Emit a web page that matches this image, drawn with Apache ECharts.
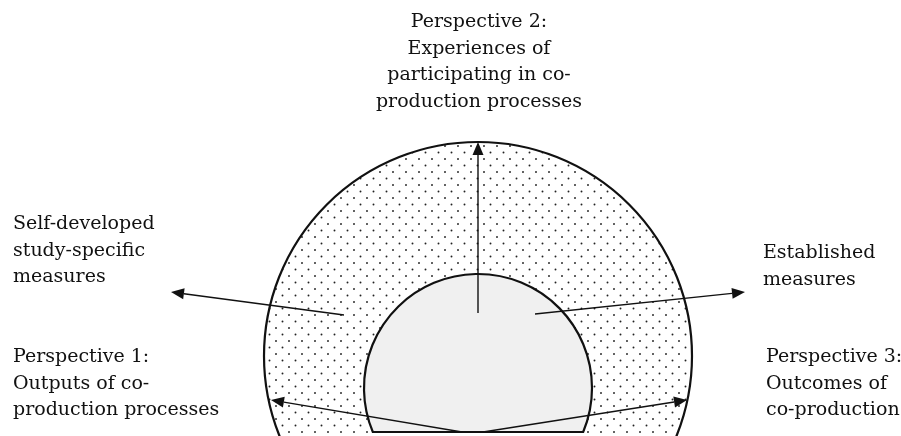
<!DOCTYPE html>
<html>
<head>
<meta charset="utf-8">
<script src="https://cdn.jsdelivr.net/npm/echarts@6/dist/echarts.min.js"></script>
<style>
    html, body {margin: 0; padding: 0; background: #fff;}
    #main {width: 901px; height: 436px;}
</style>
</head>
<body>
<div id="main"></div>
<script>
// diagram units (1 unit ~ 1px), origin at the centre of the big circle, y up
var outerCircle = [0, 0, 214];          // cx, cy, r
var innerDome = [0, -32, 114, -76];     // cx, cy, r, flat base y
var arrowFrom = [[0, 43], [-134, 41], [57, 42], [-16, -76], [5, -76]];
var arrowTo = [[0, 214], [-307, 64], [267, 64], [-207, -44], [209, -44]];

var labelTexts = [
    'Perspective 2:\nExperiences of\nparticipating in co-\nproduction processes',
    'Self-developed\nstudy-specific\nmeasures',
    'Perspective 1:\nOutputs of co-\nproduction processes',
    'Established\nmeasures',
    'Perspective 3:\nOutcomes of\nco-production'
];
var labelX = [1, -465, -465, 285, 288];
var labelY = [347, 145, 12, 116, 12];
var labelAlign = ['center', 'left', 'left', 'left', 'left'];

var FONT = '"DejaVu Serif", serif';

//点状填充
function dotPattern() {
    var c = document.createElement('canvas');
    c.width = 13;
    c.height = 13;
    var ctx = c.getContext('2d');
    ctx.fillStyle = '#fff';
    ctx.fillRect(0, 0, 13, 13);
    ctx.fillStyle = '#222';
    [[3, 3], [9.5, 9.5]].forEach(function (p) {
        ctx.beginPath();
        ctx.arc(p[0], p[1], 0.95, 0, Math.PI * 2);
        ctx.fill();
    });
    return c;
}
var pattern = dotPattern();

var chart = echarts.init(document.getElementById('main'));

var option = {
    animation: false,
    grid: {left: 0, right: 0, top: 0, bottom: 0},
    xAxis: {type: 'value', min: -478, max: 423, show: false},
    yAxis: {type: 'value', min: -80, max: 356, show: false},
    series: [
        {
            // outer circle
            type: 'custom',
            silent: true,
            clip: false,
            data: [outerCircle],
            renderItem: function (params, api) {
                var c = api.coord([api.value(0), api.value(1)]);
                var r = api.size([api.value(2), 0])[0];
                return {
                    type: 'circle',
                    shape: {cx: c[0], cy: c[1], r: r},
                    style: {fill: {image: pattern, repeat: 'repeat'}, stroke: '#111', lineWidth: 2.2}
                };
            }
        },
        {
            // inner dome
            type: 'custom',
            silent: true,
            clip: false,
            data: [innerDome],
            renderItem: function (params, api) {
                var c = api.coord([api.value(0), api.value(1)]);
                var r = api.size([api.value(2), 0])[0];
                var by = api.coord([0, api.value(3)])[1];
                var dy = by - c[1];
                var dx = Math.sqrt(r * r - dy * dy);
                var d = 'M' + (c[0] - dx) + ' ' + by + ' A' + r + ' ' + r + ' 0 1 1 ' + (c[0] + dx) + ' ' + by + ' Z';
                return {
                    type: 'path',
                    shape: {pathData: d},
                    style: {fill: '#f0f0f0', stroke: '#111', lineWidth: 2.2}
                };
            }
        },
        {
            // arrows
            type: 'custom',
            silent: true,
            clip: false,
            data: arrowFrom.map(function (f, i) {
                return [f[0], f[1], arrowTo[i][0], arrowTo[i][1]];
            }),
            renderItem: function (params, api) {
                var p0 = api.coord([api.value(0), api.value(1)]);
                var p1 = api.coord([api.value(2), api.value(3)]);
                var vx = p1[0] - p0[0], vy = p1[1] - p0[1];
                var len = Math.sqrt(vx * vx + vy * vy);
                var ux = vx / len, uy = vy / len;
                var hl = 13, hw = 5.5;
                var bx = p1[0] - ux * hl, by = p1[1] - uy * hl;
                return {
                    type: 'group',
                    children: [
                        {
                            type: 'line',
                            shape: {x1: p0[0], y1: p0[1], x2: bx, y2: by},
                            style: {stroke: '#111', lineWidth: 1.4}
                        },
                        {
                            type: 'polygon',
                            shape: {points: [p1, [bx - uy * hw, by + ux * hw], [bx + uy * hw, by - ux * hw]]},
                            style: {fill: '#111'}
                        }
                    ]
                };
            }
        },
        {
            // labels
            type: 'custom',
            silent: true,
            clip: false,
            data: labelX.map(function (x, i) {
                return [x, labelY[i]];
            }),
            renderItem: function (params, api) {
                var p = api.coord([api.value(0), api.value(1)]);
                var i = params.dataIndex;
                return {
                    type: 'text',
                    x: p[0],
                    y: p[1],
                    style: {
                        text: labelTexts[i],
                        fill: '#111',
                        fontSize: 19,
                        fontFamily: FONT,
                        lineHeight: 26.5,
                        align: labelAlign[i],
                        verticalAlign: 'top'
                    }
                };
            }
        }
    ]
};

chart.setOption(option);
</script>
</body>
</html>
